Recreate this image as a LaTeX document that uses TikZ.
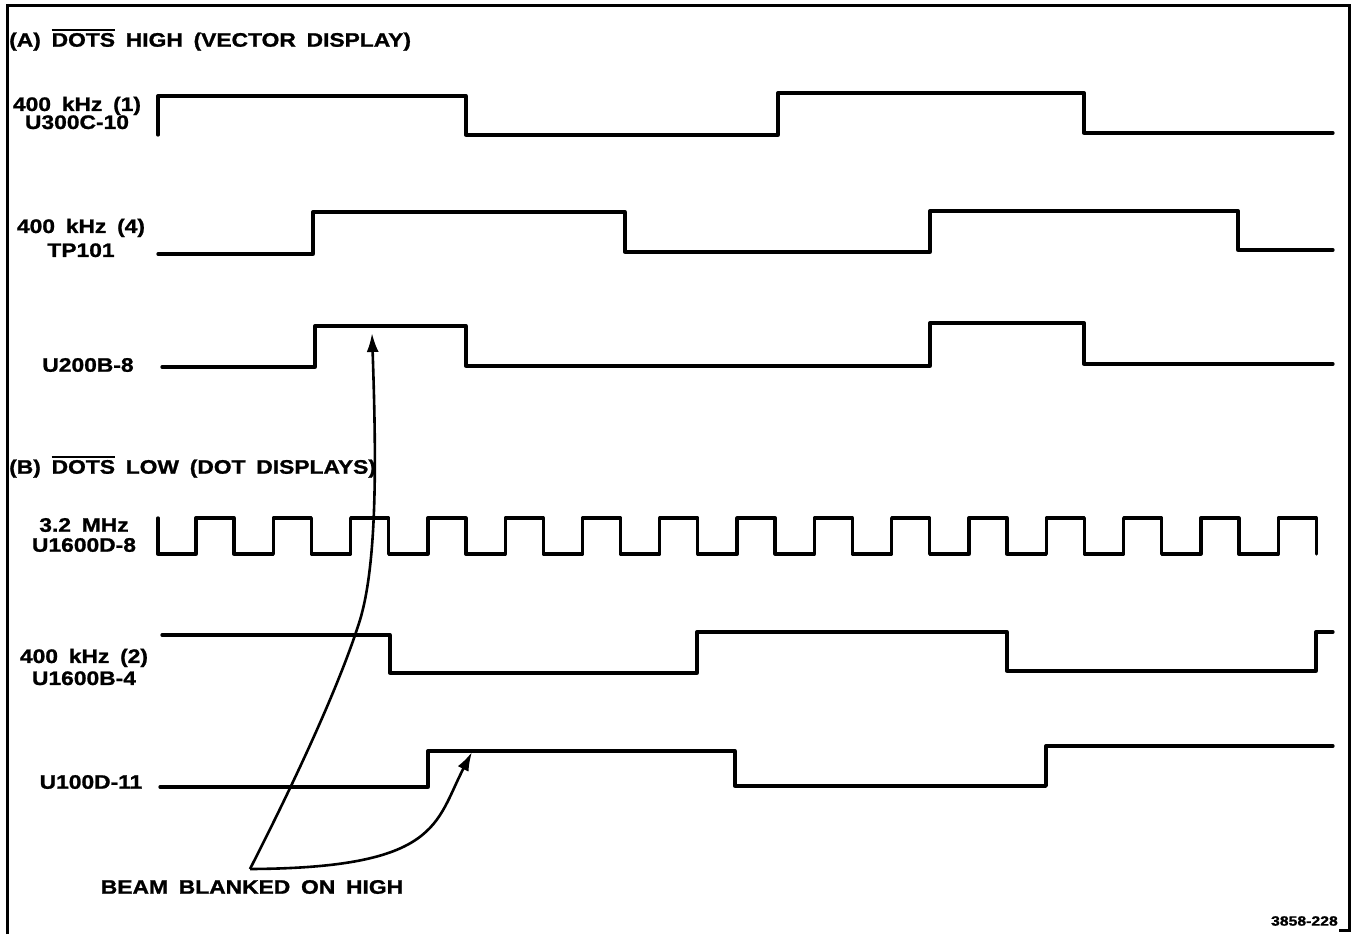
\documentclass[tikz,border=0pt]{standalone}
\usepackage{fontspec}
\usetikzlibrary{arrows.meta}
\newfontfamily\lblfont[FakeStretch=1.17,WordSpace=1.7,FakeBold=1.2]{Liberation Sans}
\newcommand{\olbar}[1]{\setbox0\hbox{#1}\rlap{\raisebox{\dimexpr\ht0+1.8pt\relax}{\rule{\wd0}{2pt}}}\box0\relax}
\begin{document}
\begin{tikzpicture}[x=1pt,y=-1pt,
  lbl/.style={font=\lblfont\bfseries\fontsize{19.5}{21}\selectfont, inner sep=0pt, align=center},
  small/.style={font=\lblfont\bfseries\fontsize{13.5}{14}\selectfont, inner sep=0pt},
  wave/.style={line width=3.3pt, line join=round, line cap=round},
  frame/.style={line width=3pt},
  pointer/.style={line width=2.6pt, -{Latex[length=19pt,width=12pt]}}]
\path[use as bounding box] (0,0) rectangle (1356,934);

% frame
\draw[frame] (7,934) -- (7,6) -- (1349,6) -- (1349,930) -- (1339,930);

% headers
\node[lbl,anchor=west] (ha) at (9,40) {(A) \olbar{DOTS} HIGH (VECTOR DISPLAY)};
\node[lbl,anchor=west] (hb) at (9,467) {(B) \olbar{DOTS} LOW (DOT DISPLAYS)};

% signal labels
\node[lbl] (l1) at (77,113) {400 kHz (1)\\[-3pt]U300C-10};
\node[lbl] (l2) at (81,238) {400 kHz (4)\\[3pt]TP101};
\node[lbl] (l3) at (88,365) {U200B-8};
\node[lbl] (l4) at (84,535) {3.2 MHz\\[-1pt]U1600D-8};
\node[lbl] (l5) at (84,667) {400 kHz (2)\\[1pt]U1600B-4};
\node[lbl] (l6) at (91,782) {U100D-11};

% waveforms
\draw[wave] (158,135) -- (158,96) -- (466,96) -- (466,135) -- (778,135) -- (778,93) -- (1084,93) -- (1084,133) -- (1333,133);
\draw[wave] (158,254) -- (313,254) -- (313,212) -- (625,212) -- (625,252) -- (930,252) -- (930,211) -- (1238,211) -- (1238,250) -- (1333,250);
\draw[wave] (162,367) -- (315,367) -- (315,326) -- (466,326) -- (466,366) -- (930,366) -- (930,323) -- (1084,323) -- (1084,364) -- (1333,364);
\draw[wave] (158,518) -- (158,554) -- (196,554)
  \foreach \k in {0,...,14} { -- ({196+77.3*\k},554) -- ({196+77.3*\k},518) -- ({234+77.3*\k},518) -- ({234+77.3*\k},554) };
\draw[wave] (162,635) -- (390,635) -- (390,673) -- (697,673) -- (697,632) -- (1007,632) -- (1007,671) -- (1316,671) -- (1316,632) -- (1333,632);
\draw[wave] (160,787) -- (428,787) -- (428,751) -- (735,751) -- (735,786) -- (1046,786) -- (1046,746) -- (1333,746);

% annotation
\node[lbl] (beam) at (252,887) {BEAM BLANKED ON HIGH};
\coordinate (src) at (250,869);
\coordinate (mid) at (360,620);
\coordinate (tipA) at (372,333);
\coordinate (tipB) at (472,752);
\draw[pointer] (src) .. controls (275,820) and (335,700) .. (mid) .. controls (378,560) and (376,450) .. (tipA);
\draw[pointer] (src) .. controls (440,868) and (435,823) .. (tipB);

\node[small,anchor=east] (fig) at (1338,921) {3858-228};
\end{tikzpicture}
\end{document}
